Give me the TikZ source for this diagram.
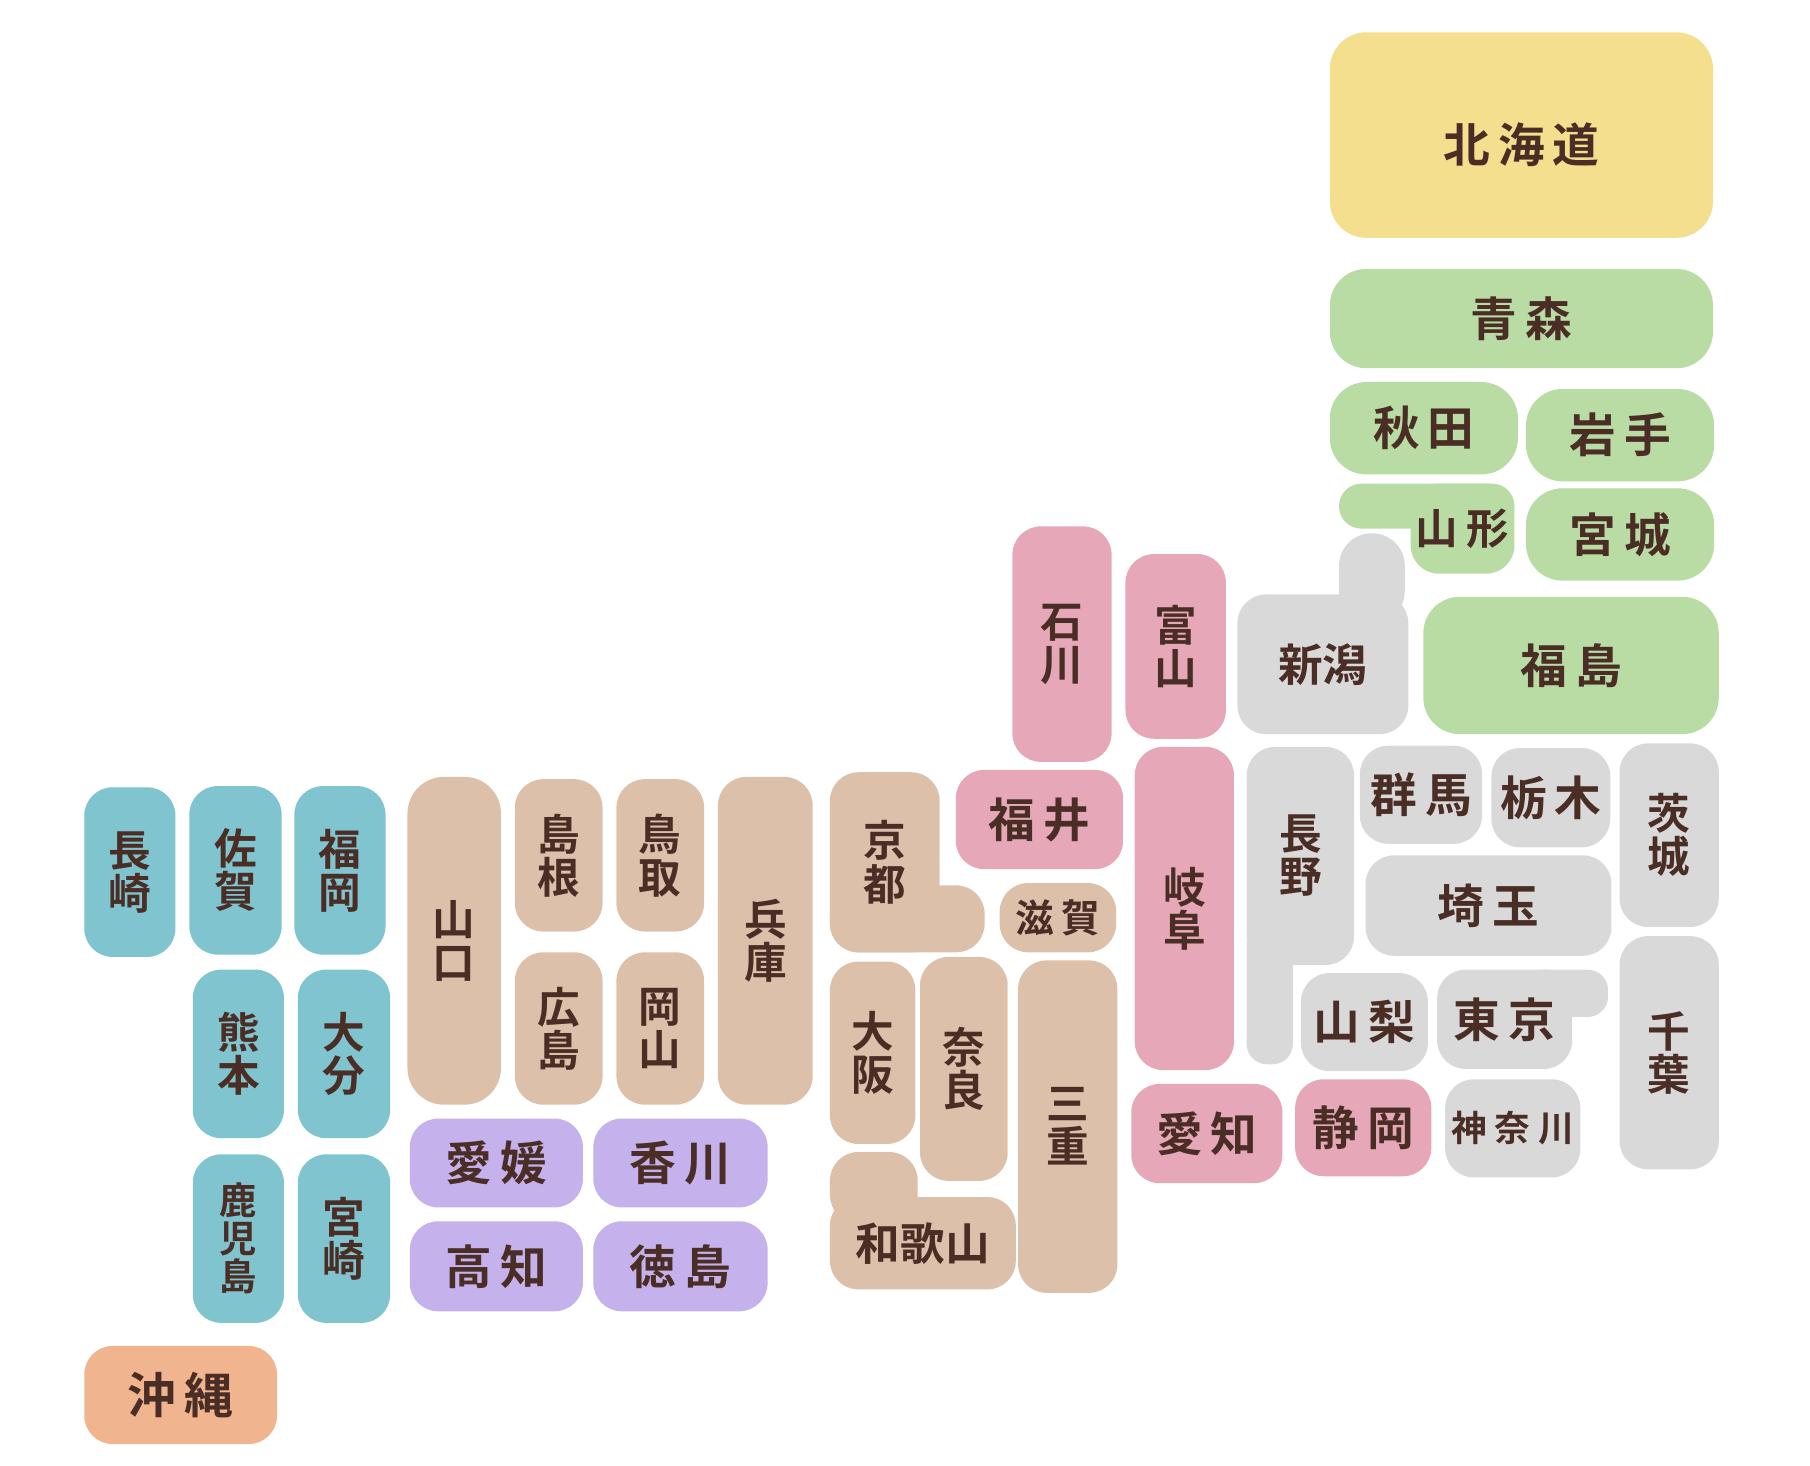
\documentclass[tikz,border=0pt]{standalone}
\usepackage{fontspec}
\usepackage{xcolor}
\usepackage{tikz}
\newfontfamily\jp{Noto Sans CJK JP Bold}
\newcommand{\ksp}{\hspace{2pt}}

\definecolor{ink}{HTML}{4A2D25}
\definecolor{hkd}{HTML}{F3DF8E}
\definecolor{thk}{HTML}{B9DCA5}
\definecolor{knt}{HTML}{D9D9D9}
\definecolor{chb}{HTML}{E6A8B8}
\definecolor{kns}{HTML}{DCC0AA}
\definecolor{skk}{HTML}{C5B1EC}
\definecolor{kys}{HTML}{80C4CF}
\definecolor{okn}{HTML}{F0B48F}

\begin{document}
\begin{tikzpicture}[x=0.01cm, y=-0.01cm]
            %Block styles
            \tikzset{pref/.style={rounded corners=7pt, inner sep=0pt, text=ink, align=center, font=\jp\fontsize{11.5}{12}\selectfont}}
            \tikzset{sz/.style 2 args={minimum width=#1*0.01cm, minimum height=#2*0.01cm}}
            \tikzset{tate/.style={font=\jp\fontsize{10.5}{10.6}\selectfont}}
            \tikzset{small/.style={font=\jp\fontsize{9.5}{9.6}\selectfont}}
            \tikzset{big/.style={rounded corners=9pt}}

            \useasboundingbox (0,0) rectangle (1568,1270);

            %Hokkaido and Tohoku
            \node[pref, big, fill=hkd, sz={332}{178}, text height=14.5pt] (hokkaido) at (1318,117) {北\ksp 海\ksp 道};
            \node[pref, big, fill=thk, sz={332}{86}] (aomori) at (1318,276) {青\ksp 森};
            \node[pref, big, fill=thk, sz={163}{80}] (akita) at (1233.5,371) {秋\ksp 田};
            \node[pref, big, fill=thk, sz={163}{80}] (iwate) at (1403.5,377) {岩\ksp 手};
            \fill[thk, rounded corners=5.5pt] (1160,419) rectangle (1312,458);
            \node[pref, fill=thk, font=\jp\fontsize{10.5}{11}\selectfont, sz={90}{78}] (yamagata) at (1267,458) {山\ksp 形};
            \node[pref, big, fill=thk, sz={163}{80}] (miyagi) at (1403.5,463) {宮\ksp 城};
            \node[pref, big, fill=thk, sz={256}{119}] (fukushima) at (1361,576.5) {福\ksp 島};

            %Kanto and Koshinetsu
            \fill[knt, rounded corners=8pt] (1160,462) rectangle (1217,540);
            \node[pref, fill=knt, font=\jp\fontsize{11}{12}\selectfont, sz={148}{121}] (niigata) at (1146,575.5) {新潟};
            \fill[knt, rounded corners=5pt] (1080,800) rectangle (1120,922);
            \node[pref, tate, fill=knt, sz={93}{189}] (nagano) at (1126.5,741.5) {長\\野};
            \node[pref, fill=knt, sz={106}{85}] (gunma) at (1231,688.5) {群\ksp 馬};
            \node[pref, fill=knt, sz={103}{86}] (tochigi) at (1343.5,691) {栃\ksp 木};
            \node[pref, tate, fill=knt, sz={86}{159}] (ibaraki) at (1446,723.5) {茨\\城};
            \node[pref, fill=knt, sz={213}{87}] (saitama) at (1289.5,784.5) {埼\ksp 玉};
            \node[pref, tate, fill=knt, sz={86}{202}] (chiba) at (1446,912) {千\\葉};
            \node[pref, fill=knt, sz={110}{85}] (yamanashi) at (1182,885.5) {山\ksp 梨};
            \fill[knt, rounded corners=5pt] (1320,840) rectangle (1393,881);
            \node[pref, fill=knt, sz={117}{86}] (tokyo) at (1303.5,883) {東\ksp 京};
            \node[pref, fill=knt, font=\jp\fontsize{8.8}{9}\selectfont, sz={117}{85}] (kanagawa) at (1310.5,977.5) {神\ksp 奈\ksp 川};

            %Chubu
            \node[pref, tate, fill=chb, sz={86}{204}] (ishikawa) at (920,558) {石\\川};
            \node[pref, tate, fill=chb, sz={87}{160}] (toyama) at (1018.5,560) {富\\山};
            \node[pref, fill=chb, sz={145}{86}] (fukui) at (900.5,710) {福\ksp 井};
            \node[pref, tate, fill=chb, sz={86}{280}] (gifu) at (1026,787) {岐\\阜};
            \node[pref, fill=chb, sz={131}{86}] (aichi) at (1045.5,982) {愛\ksp 知};
            \node[pref, fill=chb, sz={118}{84}] (shizuoka) at (1181,977) {静\ksp 岡};

            %Kinki
            \node[pref, small, fill=kns, sz={101}{60}] (shiga) at (916.5,795) {滋\ksp 賀};
            \node[pref, tate, fill=kns, sz={86}{288}] (mie) at (925,976) {三\\重};
            \fill[kns, rounded corners=7pt] (719,767) rectangle (853,825);
            \node[pref, tate, fill=kns, sz={95}{156}] (kyoto) at (766.5,747) {京\\都};
            \node[pref, tate, fill=kns, sz={74}{158}] (osaka) at (756,912) {大\\阪};
            \node[pref, tate, fill=kns, sz={76}{194}] (nara) at (835,926) {奈\\良};
            \fill[kns, rounded corners=7pt] (719,998) rectangle (795,1060);
            \node[pref, fill=kns, font=\jp\fontsize{11}{12}\selectfont, sz={161}{80}] (wakayama) at (799.5,1077) {和歌山};
            \node[pref, tate, fill=kns, sz={82}{284}] (hyogo) at (663,815) {兵\\庫};

            %Chugoku
            \node[pref, tate, fill=kns, sz={76}{132}] (tottori) at (572,741) {鳥\\取};
            \node[pref, tate, fill=kns, sz={76}{132}] (okayama) at (572,891) {岡\\山};
            \node[pref, tate, fill=kns, sz={76}{132}] (shimane) at (484,741) {島\\根};
            \node[pref, tate, fill=kns, sz={76}{132}] (hiroshima) at (484,891) {広\\島};
            \node[pref, tate, big, fill=kns, sz={81}{284}] (yamaguchi) at (393.5,815) {山\\口};

            %Shikoku
            \node[pref, fill=skk, sz={150}{77}] (ehime) at (430,1007.5) {愛\ksp 媛};
            \node[pref, fill=skk, sz={151}{77}] (kagawa) at (589.5,1007.5) {香\ksp 川};
            \node[pref, fill=skk, sz={150}{78}] (kochi) at (430,1097) {高\ksp 知};
            \node[pref, fill=skk, sz={151}{78}] (tokushima) at (589.5,1097) {徳\ksp 島};

            %Kyushu and Okinawa
            \node[pref, tate, fill=kys, sz={79}{147}] (nagasaki) at (112.5,755.5) {長\\崎};
            \node[pref, tate, fill=kys, sz={80}{146}] (saga) at (204,754) {佐\\賀};
            \node[pref, tate, fill=kys, sz={79}{146}] (fukuoka) at (294.5,754) {福\\岡};
            \node[pref, tate, fill=kys, sz={79}{146}] (kumamoto) at (206.5,913) {熊\\本};
            \node[pref, tate, fill=kys, sz={80}{146}] (oita) at (298,913) {大\\分};
            \node[pref, fill=kys, font=\jp\fontsize{9.2}{9.4}\selectfont, sz={79}{146}] (kagoshima) at (206.5,1073) {鹿\\児\\島};
            \node[pref, tate, fill=kys, sz={80}{146}] (miyazaki) at (298,1073) {宮\\崎};
            \node[pref, fill=okn, font=\jp\fontsize{12}{13}\selectfont, sz={167}{85}] (okinawa) at (156.5,1208.5) {沖\ksp 縄};
\end{tikzpicture}
\end{document}
